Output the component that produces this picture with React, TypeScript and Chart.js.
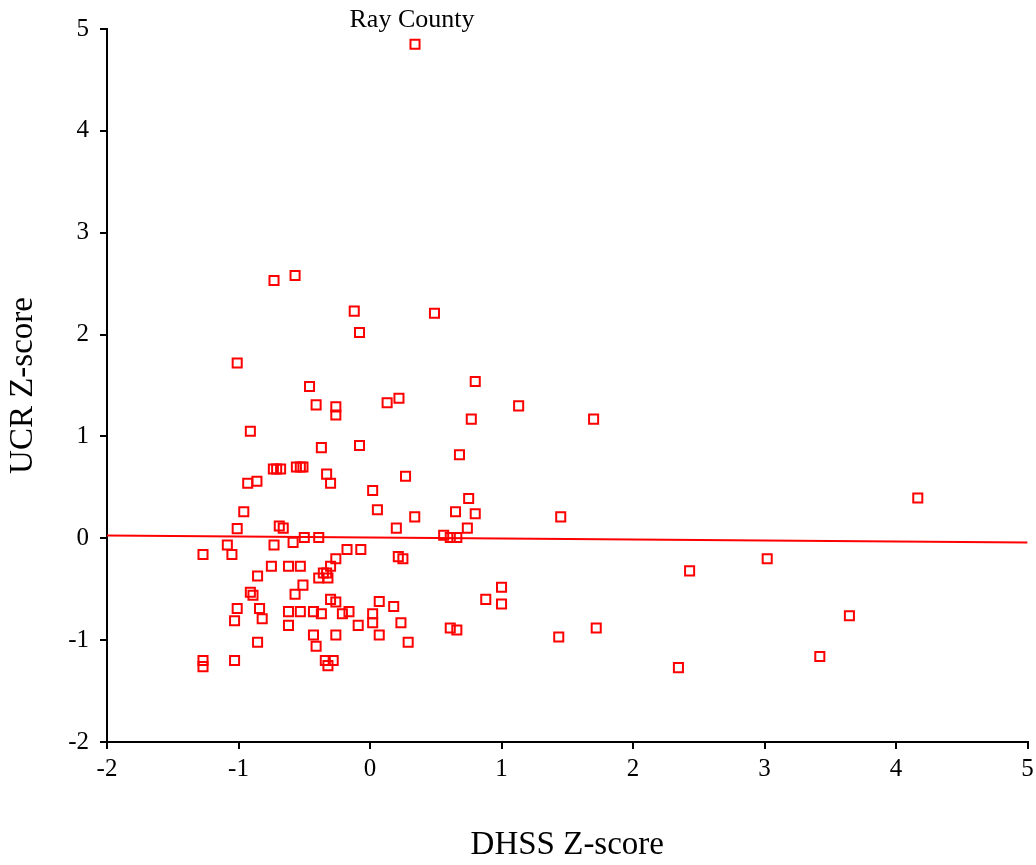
import React, { useEffect, useRef } from 'react';
import { Chart, registerables } from 'chart.js';

Chart.register(...registerables);

// DHSS Z-score (x) and UCR Z-score (y) for each county
const dhssZ = [
  -0.73, -0.57, -0.12, 0.49, -0.08, -1.01, -0.46, -0.41, -0.26, -0.26,
  0.13, 0.22, 0.80, 0.77, -0.91, -0.37, -0.08, 0.68, -0.735, -0.71,
  -0.68, -0.56, -0.53, -0.51, -0.33, -0.30, -0.93, -0.86, 0.27, 0.02,
  0.75, 1.13, 1.70, 1.45, 1.00, 0.88, 1.00, 1.435, 1.72,
  0.056, -0.96, 0.34, 0.65, 0.80, -1.01, -0.69, -0.66, 0.20, 0.74,
  -1.085, -1.27, -1.05, -0.73, -0.585, -0.50, -0.39, 0.56, 0.61, 0.66,
  -0.175, -0.07, -0.26, -0.30, 0.215, 0.25, -0.75, -0.62, -0.53, -0.855,
  -0.39, -0.355, -0.32, -0.33, -0.51, -0.57, -0.91, -0.89, -0.30, -0.26,
  0.07, 0.18, -1.01, -0.84, -0.62, -0.53, -0.43, -0.37, -0.21, -0.16,
  0.02, 0.02, -1.03, -0.82, -0.62, -0.09, 0.235, 0.61, 0.66, -0.43,
  -0.26, 0.07, -0.41, -0.855, 0.29, -1.03, -1.27, -1.27, -0.34, -0.28,
  -0.32,
  4.165, 3.02, 2.43, 3.645, 3.42, 2.345,
  0.342,
];
const ucrZ = [
  2.53, 2.58, 2.23, 2.21, 2.02, 1.72, 1.49, 1.31, 1.29, 1.21,
  1.33, 1.375, 1.54, 1.17, 1.05, 0.89, 0.91, 0.82, 0.68, 0.68,
  0.68, 0.70, 0.70, 0.70, 0.63, 0.54, 0.54, 0.56, 0.61, 0.47,
  0.39, 1.30, 1.17, 0.21, -0.48, -0.60, -0.645, -0.97, -0.88,
  0.28, 0.26, 0.21, 0.26, 0.24, 0.095, 0.12, 0.10, 0.10, 0.10,
  -0.065, -0.16, -0.16, -0.066, -0.04, 0.007, 0.007, 0.03, 0.007, 0.007,
  -0.11, -0.11, -0.20, -0.275, -0.18, -0.20, -0.275, -0.275, -0.275, -0.37,
  -0.39, -0.34, -0.39, -0.34, -0.46, -0.55, -0.53, -0.56, -0.60, -0.625,
  -0.62, -0.67, -0.69, -0.69, -0.72, -0.72, -0.72, -0.74, -0.74, -0.72,
  -0.74, -0.83, -0.81, -0.79, -0.855, -0.855, -0.83, -0.88, -0.90, -0.95,
  -0.95, -0.95, -1.06, -1.02, -1.02, -1.20, -1.20, -1.26, -1.20, -1.20,
  -1.25,
  0.395, -0.20, -0.32, -0.76, -1.16, -1.27,
  4.85,
];

// Fitted regression line end points
const fitX = [-2, 5];
const fitY = [0.027, -0.041];

const xTicks = [-2, -1, 0, 1, 2, 3, 4, 5];
const yTicks = [-2, -1, 0, 1, 2, 3, 4, 5];

const labelName = 'Ray County';
const labelIndex = dhssZ.length - 1;

const FONT = "'Liberation Serif', 'Times New Roman', serif";

export default function App() {
  const ref = useRef<HTMLCanvasElement>(null);

  useEffect(() => {
    if (!ref.current) return;
    const points = dhssZ.map((x, i) => ({ x, y: ucrZ[i] }));
    const fit = fitX.map((x, i) => ({ x, y: fitY[i] }));

    const labelPlugin = {
      id: 'pointLabel',
      afterDatasetsDraw(chart: any) {
        const el = chart.getDatasetMeta(1).data[labelIndex];
        if (!el) return;
        const ctx = chart.ctx;
        ctx.save();
        ctx.font = `26px ${FONT}`;
        ctx.fillStyle = '#000';
        ctx.textAlign = 'center';
        ctx.textBaseline = 'alphabetic';
        ctx.fillText(labelName, el.x - 3, el.y - 17);
        ctx.restore();
      },
    };

    const axisCommon = {
      type: 'linear' as const,
      min: -2,
      max: 5,
      border: { display: true, color: '#000', width: 2 },
      grid: {
        drawOnChartArea: false,
        drawTicks: true,
        tickLength: 7,
        color: '#000',
        lineWidth: 2,
      },
    };

    const chart = new Chart(ref.current, {
      type: 'scatter',
      data: {
        datasets: [
          {
            data: fit,
            showLine: true,
            borderColor: '#ff0000',
            borderWidth: 2,
            pointRadius: 0,
            fill: false,
          },
          {
            data: points,
            pointStyle: 'rect',
            pointRadius: 6.4,
            borderColor: '#ff0000',
            borderWidth: 2,
            backgroundColor: 'rgba(0,0,0,0)',
          },
        ],
      },
      options: {
        animation: false,
        responsive: false,
        devicePixelRatio: 1,
        events: [],
        layout: { padding: { left: 0, right: 8, top: 29, bottom: 0 } },
        plugins: { legend: { display: false }, tooltip: { enabled: false } },
        scales: {
          x: {
            ...axisCommon,
            afterBuildTicks: (s: any) => {
              s.ticks = xTicks.map((v) => ({ value: v }));
            },
            afterFit: (s: any) => {
              s.height = 123;
              s.paddingLeft = 0;
              s.paddingRight = 0;
            },
            ticks: {
              color: '#000',
              font: { family: FONT, size: 25 },
              padding: 5,
              maxRotation: 0,
              autoSkip: false,
            },
            title: {
              display: true,
              text: 'DHSS Z-score',
              color: '#000',
              font: { family: FONT, size: 33 },
              padding: { top: 0, bottom: 0 },
            },
          },
          y: {
            ...axisCommon,
            afterBuildTicks: (s: any) => {
              s.ticks = yTicks.map((v) => ({ value: v }));
            },
            afterFit: (s: any) => {
              s.width = 107;
              s.paddingTop = 0;
              s.paddingBottom = 0;
            },
            ticks: {
              color: '#000',
              font: { family: FONT, size: 25 },
              padding: 11,
              autoSkip: false,
            },
            title: {
              display: true,
              text: 'UCR Z-score',
              color: '#000',
              font: { family: FONT, size: 33 },
              padding: { top: 4, bottom: 0 },
            },
          },
        },
      },
      plugins: [labelPlugin],
    } as any);

    return () => chart.destroy();
  }, []);

  return (
    <div style={{ position: 'fixed', left: 0, top: 0, width: 1036, height: 865, background: '#fff' }}>
      <canvas ref={ref} width={1036} height={865} style={{ width: 1036, height: 865, display: 'block' }} />
    </div>
  );
}
